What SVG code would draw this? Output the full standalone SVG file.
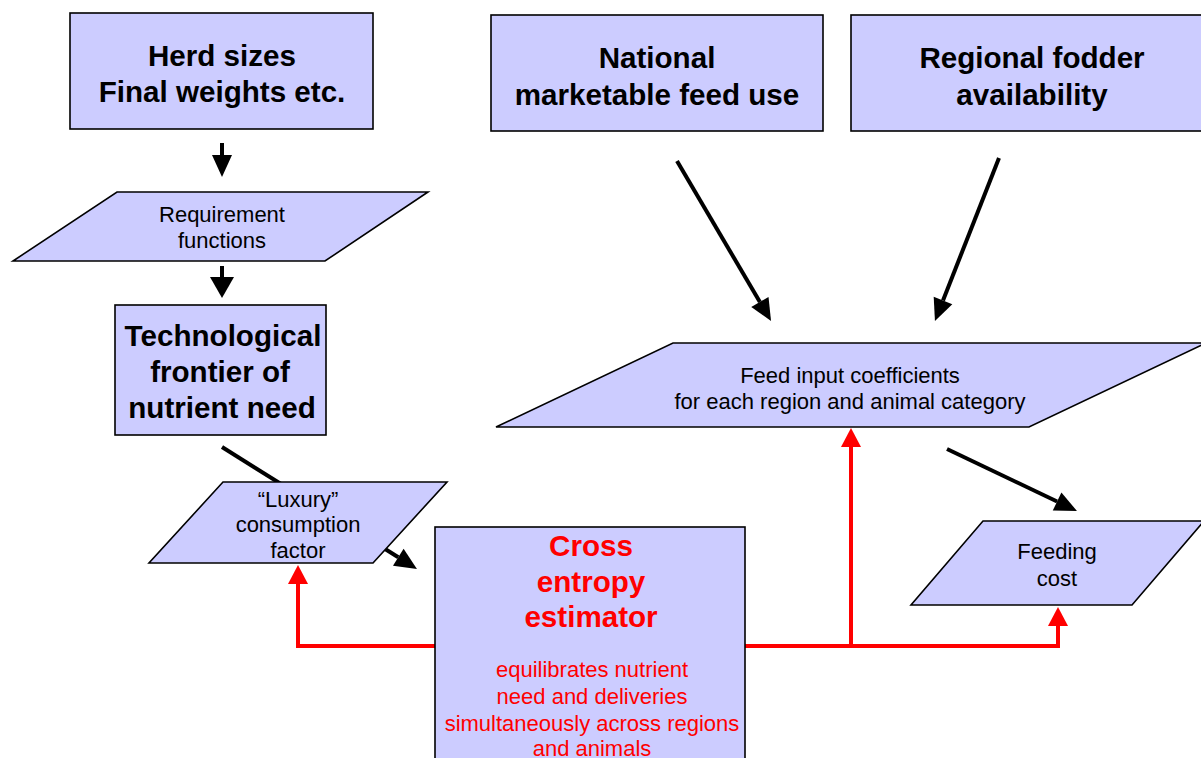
<svg xmlns="http://www.w3.org/2000/svg" width="1201" height="758" viewBox="0 0 1201 758">
  <style>
    .shape { fill: #CCCCFF; stroke: #000; stroke-width: 1.6; }
    .big { font-family: "Liberation Sans", Arial, sans-serif; font-size: 29.6px; font-weight: bold; fill: #000; text-anchor: middle; }
    .small { font-family: "Liberation Sans", Arial, sans-serif; font-size: 22px; fill: #000; text-anchor: middle; }
    .red { fill: #FF0000; }
    .blk { fill: none; stroke: #000; stroke-width: 4; }
    .rd { fill: none; stroke: #FF0000; stroke-width: 4; }
  </style>
  <defs>
    <marker id="headBlack" markerUnits="userSpaceOnUse" markerWidth="24" markerHeight="22" refX="0" refY="11" orient="auto" overflow="visible">
      <path d="M0,1 L22,11 L0,21 z" fill="#000"/>
    </marker>
    <marker id="headBlackWide" markerUnits="userSpaceOnUse" markerWidth="24" markerHeight="26" refX="0" refY="13" orient="auto" overflow="visible">
      <path d="M0,1 L21,13 L0,25 z" fill="#000"/>
    </marker>
    <marker id="headRed" markerUnits="userSpaceOnUse" markerWidth="21" markerHeight="21" refX="0" refY="10" orient="auto" overflow="visible">
      <path d="M0,0 L19,10 L0,20 z" fill="#FF0000"/>
    </marker>
  </defs>
  <rect width="1201" height="758" fill="#fff"/>

  <!-- connectors, drawn underneath the nodes -->
  <g id="connectors">
    <path class="blk" d="M222,143 V155" marker-end="url(#headBlack)"/>
    <path class="blk" d="M222,266 V277" marker-end="url(#headBlackWide)"/>
    <path class="blk" d="M222,447 L398.3,557.3" marker-end="url(#headBlack)"/>
    <path class="blk" d="M677,161 L759.9,302" marker-end="url(#headBlack)"/>
    <path class="blk" d="M999,158 L943,300.5" marker-end="url(#headBlack)"/>
    <path class="blk" d="M947,449 L1057.1,501.5" marker-end="url(#headBlack)"/>
    <path class="rd" d="M435,646 H298 V584" marker-end="url(#headRed)"/>
    <path class="rd" d="M745,646 H1058 V626" marker-end="url(#headRed)"/>
    <path class="rd" d="M851,646 V447" marker-end="url(#headRed)"/>
  </g>

  <g id="herd">
    <rect class="shape" x="70" y="13" width="303" height="116"/>
    <text class="big" x="222" y="66">Herd sizes</text>
    <text class="big" x="222" y="102">Final weights etc.</text>
  </g>

  <g id="national">
    <rect class="shape" x="491" y="15" width="332" height="116"/>
    <text class="big" x="657" y="68">National</text>
    <text class="big" x="657" y="105">marketable feed use</text>
  </g>

  <g id="regional">
    <rect class="shape" x="851" y="15" width="360" height="116"/>
    <text class="big" x="1032" y="68">Regional fodder</text>
    <text class="big" x="1032" y="105">availability</text>
  </g>

  <g id="requirement">
    <polygon class="shape" points="117,192 428,192 325,261 13,261"/>
    <text class="small" x="222" y="222">Requirement</text>
    <text class="small" x="222" y="248">functions</text>
  </g>

  <g id="technological">
    <rect class="shape" x="115" y="305" width="211" height="130"/>
    <text class="big" x="223" y="346">Technological</text>
    <text class="big" x="220" y="382">frontier of</text>
    <text class="big" x="222" y="418">nutrient need</text>
  </g>

  <g id="feed-input">
    <polygon class="shape" points="673,343 1206,343 1029,427 496,427"/>
    <text class="small" x="850" y="383">Feed input coefficients</text>
    <text class="small" x="850" y="409">for each region and animal category</text>
  </g>

  <g id="luxury">
    <polygon class="shape" points="223,482 447,482 373,563 149,563"/>
    <text class="small" x="298" y="507">“Luxury”</text>
    <text class="small" x="298" y="532">consumption</text>
    <text class="small" x="298" y="558">factor</text>
  </g>

  <g id="feeding-cost">
    <polygon class="shape" points="983,521 1204,521 1132,605 911,605"/>
    <text class="small" x="1057" y="559">Feeding</text>
    <text class="small" x="1057" y="586">cost</text>
  </g>

  <g id="cross-entropy">
    <rect class="shape" x="435" y="527" width="310" height="250"/>
    <text class="big red" x="591" y="556">Cross</text>
    <text class="big red" x="591" y="592">entropy</text>
    <text class="big red" x="591" y="627">estimator</text>
    <text class="small red" x="592" y="677">equilibrates nutrient</text>
    <text class="small red" x="592" y="704">need and deliveries</text>
    <text class="small red" x="592" y="731">simultaneously across regions</text>
    <text class="small red" x="592" y="756">and animals</text>
  </g>
</svg>
